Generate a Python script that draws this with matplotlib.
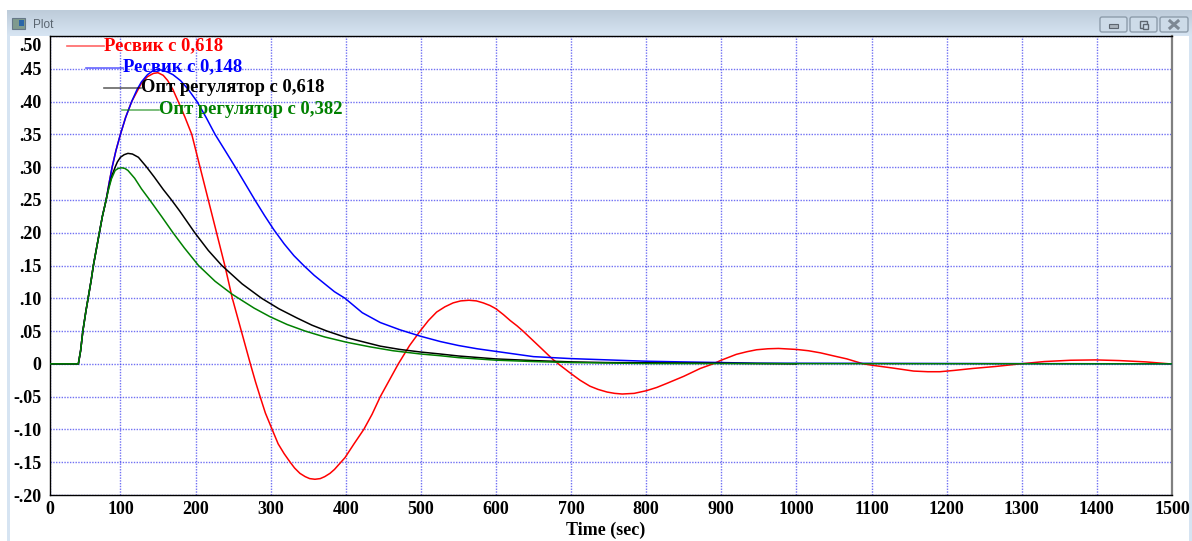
import numpy as np
import matplotlib
matplotlib.use('Agg')
import matplotlib.pyplot as plt
from matplotlib.patches import Rectangle, FancyBboxPatch
from matplotlib.lines import Line2D
from matplotlib.transforms import Affine2D

W, H = 1192, 541

# curves
red_t = [0, 44, 47, 50, 54, 57, 61, 64, 68, 72, 76, 81, 85, 89, 94, 100, 107, 115, 122, 128, 136, 144, 150, 157,
         163, 170, 177, 186, 195, 206, 217, 228, 239, 249, 261, 273, 280, 286, 293, 302, 310, 318, 326, 332, 339,
         346, 352, 359, 366, 372, 379, 385, 392, 399, 411, 424, 435, 446, 458, 470, 485, 499, 510, 521, 532, 543,
         553, 564, 574, 583, 592, 600, 610, 619, 628, 636, 648, 660, 676, 683, 700, 712, 725, 736, 748, 758, 768,
         784, 800, 814, 827, 850, 872, 889, 900, 920, 934, 947, 962, 976, 1000, 1016, 1032, 1050, 1067, 1089, 1100,
         1129, 1156, 1175, 1191, 1210, 1235, 1265, 1298, 1330, 1365, 1398, 1430, 1465, 1497]
red_y = [0, 0, .02, .05, .08, .10, .127, .15, .175, .20, .225, .25, .276, .30, .325, .35, .376, .40, .415, .428, .438,
         .443, .444, .44, .432, .418, .40, .376, .35, .30, .25, .20, .15, .10, .05, 0, -.028, -.05, -.075, -.10, -.122,
         -.137, -.15, -.159, -.167, -.172, -.175, -.176, -.175, -.172, -.167, -.161, -.152, -.143, -.122, -.10, -.077,
         -.05, -.025, 0, .028, .05, .066, .079, .087, .093, .096, .097, .096, .093, .089, .084, .075, .066, .058, .05,
         .037, .024, .0065, 0, -.015, -.025, -.034, -.039, -.043, -.045, -.046, -.045, -.041, -.036, -.03, -.019, -.007,
         0, .0056, .0145, .0185, .0215, .023, .0235, .022, .02, .0168, .012, .0076, 0, -.002, -.0065, -.011, -.012, -.012,
         -.010, -.007, -.004, 0, .0035, .0055, .006, .005, .003, 0]

blue_t = [0, 44, 47, 50, 54, 57, 61, 64, 68, 72, 76, 81, 85, 89, 94, 100, 107, 115, 122, 128, 136, 142, 148, 155, 163,
          170, 180, 190, 202, 214, 226, 239, 253, 266, 279, 292, 304, 318, 331, 344, 358, 372, 385, 399, 422, 446, 472,
          500, 526, 550, 575, 600, 625, 650, 700, 750, 800, 847, 900, 947, 1500]
blue_y = [0, 0, .02, .05, .08, .10, .127, .15, .175, .20, .225, .25, .276, .30, .325, .35, .376, .40, .418, .43, .441,
          .446, .449, .448, .445, .441, .432, .419, .40, .376, .35, .326, .30, .275, .25, .226, .205, .183, .165, .15,
          .135, .122, .11, .10, .078, .063, .052, .042, .034, .028, .023, .019, .015, .011, .008, .006, .004, .003,
          .002, .001, 0]

black_t = [0, 44, 47, 50, 54, 57, 61, 64, 68, 72, 76, 81, 85, 89, 93, 96, 100, 105, 110, 116, 124, 135, 145, 157, 168,
           179, 199, 217, 235, 262, 288, 311, 335, 355, 375, 401, 446, 472, 500, 526, 550, 600, 650, 700, 747, 900, 1000]
black_y = [0, 0, .02, .05, .08, .10, .127, .15, .175, .20, .225, .25, .272, .288, .30, .308, .315, .319, .321, .32, .315,
           .30, .285, .266, .25, .233, .20, .173, .15, .122, .10, .084, .07, .059, .05, .04, .027, .022, .018, .015, .012,
           .0075, .005, .003, .002, .001, 0]

green_t = [0, 44, 47, 50, 54, 57, 61, 64, 68, 72, 76, 81, 84, 88, 93, 97, 102, 106, 110, 119, 128, 139, 155, 170, 185,
           204, 226, 249, 278, 299, 322, 346, 372, 401, 432, 463, 500, 525, 550, 600, 650, 700, 800, 1500]
green_y = [0, 0, .02, .05, .08, .10, .127, .15, .175, .20, .225, .25, .265, .282, .295, .298, .299, .298, .295, .283, .267,
           .25, .2245, .20, .177, .15, .126, .106, .085, .072, .06, .05, .041, .033, .026, .02, .015, .0125, .0095,
           .0056, .0035, .002, .0005, 0]

x_ticks = [100, 200, 300, 400, 500, 600, 700, 800, 900, 1000, 1100, 1200, 1300, 1400, 1500]
y_ticks = [-.20, -.15, -.10, -.05, 0, .05, .10, .15, .20, .25, .30, .35, .40, .45, .50]
y_labels = ['-.20', '-.15', '-.10', '-.05', '0', '.05', '.10', '.15', '.20', '.25', '.30', '.35', '.40', '.45', '.50']
legend_names = ['Ресвик с 0,618', 'Ресвик с 0,148', 'Опт регулятор с 0,618', 'Опт регулятор с 0,382']
legend_colors = ['red', 'blue', 'black', 'green']

plt.rcParams['font.family'] = ['Liberation Serif', 'DejaVu Serif']
plt.rcParams['font.weight'] = 'bold'

fig = plt.figure(figsize=(W / 100, H / 100), dpi=100, facecolor='white')

# pixel coordinates for the window frame
bg = fig.add_axes([0, 0, 1, 1], zorder=0)
bg.axis('off')
bg.add_patch(Rectangle((7, 10), 1185, 531, fc='#d6e4f2', ec='none'))
bg.add_patch(Rectangle((10, 36), 1179, 505, fc='white', ec='none'))
grad = np.linspace(0, 1, 26)[:, None]
bar = np.array([0xbd, 0xcc, 0xda]) / 255 * (1 - grad) + np.array([0xd6, 0xe4, 0xf2]) / 255 * grad
bg.imshow(bar.reshape(26, 1, 3), extent=(7, 1192, 36, 10), aspect='auto', zorder=1)
bg.set_xlim(0, W)
bg.set_ylim(H, 0)
bg.add_patch(Rectangle((12, 18), 13, 11, fc='#7f9a8e', ec='#667788', lw=0.8, zorder=2))
bg.add_patch(Rectangle((19, 20), 5, 6, fc='#2a66a8', ec='none', zorder=3))
bg.text(33, 25.5, 'Plot', family=['Liberation Sans'], weight='normal', fontsize=8.5, color='#5a6570', va='center', zorder=3)
for bx, bw in [(1100, 27), (1130, 27), (1160, 28)]:
    bg.add_patch(FancyBboxPatch((bx, 17), bw, 15, boxstyle='round,pad=0,rounding_size=2',
                                fc='#cddbe8', ec='#8d9cab', lw=1, zorder=2))
bg.add_patch(Rectangle((1109, 24), 9, 4, fc='#aab3bc', ec='#5d6670', lw=0.8, zorder=3))
bg.add_patch(Rectangle((1140, 21), 7, 7, fc='none', ec='#5d6670', lw=1, zorder=3))
bg.add_patch(Rectangle((1143, 24), 5, 5, fc='#cddbe8', ec='#5d6670', lw=1, zorder=4))
bg.plot([1170, 1178], [21, 28], color='#7d8894', lw=2.2, zorder=3)
bg.plot([1170, 1178], [28, 21], color='#7d8894', lw=2.2, zorder=3)

# x axis starts a little right of the true zero
x_left = 5.6
ax = fig.add_axes([49.5 / W, 1 - 495 / H, (1172 - 49.5) / W, (495 - 36) / H], zorder=2)
ax.patch.set_alpha(0)
ax.set_xlim(x_left, 1500)
ax.set_ylim(-.20, .50)

ax.plot(red_t, red_y, color='red', lw=1.1, zorder=3)
ax.plot(blue_t, blue_y, color='blue', lw=1.1, zorder=3)
ax.plot(black_t, black_y, color='black', lw=1.1, zorder=4)
ax.plot(green_t, green_y, color='green', lw=1.1, zorder=5)

ax.set_xticks([x_left] + x_ticks)
ax.set_xticklabels(['0'] + [str(t) for t in x_ticks])
ax.set_yticks(y_ticks)
ax.set_yticklabels(y_labels)
ax.tick_params(length=0, labelsize=13)
ax.tick_params(axis='y', pad=6)
ax.tick_params(axis='x', pad=4)
# top label sits below its gridline in the original
top_label = ax.get_yticklabels()[-1]
top_label.set_transform(top_label.get_transform() + Affine2D().translate(0, -8))
ax.grid(True, color='#3333ee', lw=1, ls=(0, (1, 1)), alpha=0.7)
ax.set_axisbelow(True)

for side in ['left', 'bottom', 'top']:
    ax.spines[side].set_linewidth(1)
ax.spines['right'].set_color('#808080')
ax.spines['right'].set_linewidth(1.6)

# hand-placed legend, each entry shifted right
over = fig.add_axes([0, 0, 1, 1], zorder=3)
over.set_xlim(0, W)
over.set_ylim(H, 0)
over.axis('off')
legend_x = [67, 86, 104, 122]
legend_y = [46, 67.5, 88, 110]
for name, c, lx, ly in zip(legend_names, legend_colors, legend_x, legend_y):
    over.add_line(Line2D([lx, lx + 37], [ly, ly], color=c, lw=1.2, alpha=0.6))
    over.text(lx + 37, ly - 0.5, name, color=c, fontsize=13.4, weight='bold', va='center', ha='left')
over.text(606, 530, 'Time (sec)', fontsize=13, weight='bold', va='center', ha='center')

fig.savefig('out.png', dpi=100)
